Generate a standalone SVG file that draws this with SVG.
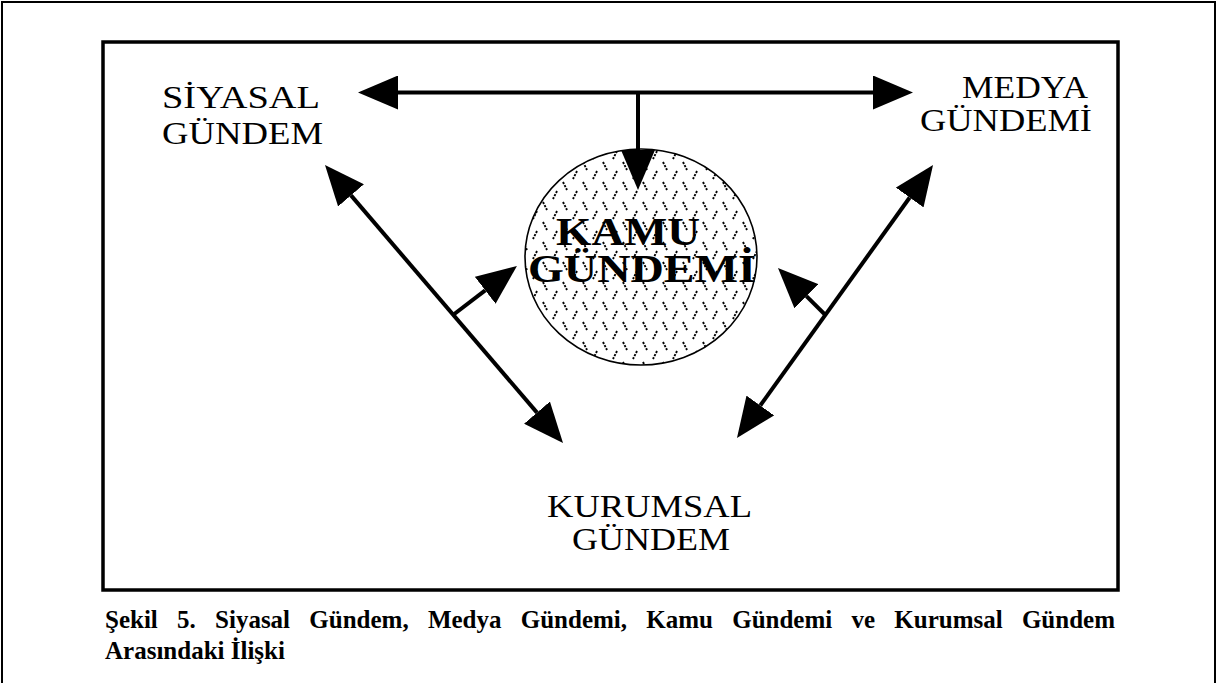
<svg xmlns="http://www.w3.org/2000/svg" width="1218" height="683" viewBox="0 0 1218 683">
<style>
.lbl{font-family:"Liberation Serif","Times New Roman",serif;font-size:32px;fill:#000}
.kamu{font-family:"Liberation Serif","Times New Roman",serif;font-size:41px;font-weight:bold;fill:#000}
.cap{font-family:"Liberation Serif","Times New Roman",serif;font-size:25px;font-weight:bold;fill:#000}
.conn{stroke:#000;stroke-width:4;fill:none;marker-end:url(#ah);marker-start:url(#ah)}
.one{stroke:#000;stroke-width:4;fill:none;marker-end:url(#ah)}
</style>
<defs>
<marker id="ah" viewBox="0 -17 40 34" refX="0" refY="0" markerWidth="40" markerHeight="34" markerUnits="userSpaceOnUse" orient="auto-start-reverse">
<path d="M0,-17 L40,0 L0,17 z" fill="#000"/>
</marker>
<pattern id="hatch" patternUnits="userSpaceOnUse" width="20" height="20">
<g stroke="#000" stroke-width="1.9" stroke-dasharray="2.2 1.3" fill="none">
<line x1="3" y1="2" x2="7" y2="10"/>
<line x1="17" y1="11" x2="13" y2="19"/>
</g>
</pattern>
</defs>
<rect x="2" y="2" width="1213" height="690" fill="none" stroke="#000" stroke-width="2"/>
<rect x="103" y="42" width="1015" height="548" fill="none" stroke="#000" stroke-width="3.5"/>

<g id="connectors">
<line class="conn" x1="398" y1="92.5" x2="873" y2="92.5"/>
<line class="one" x1="638" y1="92.5" x2="638" y2="150"/>
<line class="conn" x1="351" y1="195.4" x2="537" y2="412.6"/>
<line class="one" x1="453" y1="315" x2="485.2" y2="290.3"/>
<line class="conn" x1="909.7" y1="197.5" x2="760.3" y2="405.5"/>
<line class="one" x1="825.4" y1="315" x2="806.4" y2="296.2"/>
</g>

<g id="kamu">
<ellipse cx="641" cy="257" rx="116" ry="108" fill="url(#hatch)" stroke="#000" stroke-width="1.6"/>
<text class="kamu" x="556" y="245" textLength="144" lengthAdjust="spacingAndGlyphs">KAMU</text>
<text class="kamu" x="528" y="282" textLength="228" lengthAdjust="spacingAndGlyphs">GÜNDEMİ</text>
</g>
<g id="siyasal">
<text class="lbl" x="162" y="108" textLength="158" lengthAdjust="spacingAndGlyphs">SİYASAL</text>
<text class="lbl" x="162" y="144" textLength="161" lengthAdjust="spacingAndGlyphs">GÜNDEM</text>
</g>
<g id="medya">
<text class="lbl" x="962" y="98" textLength="126" lengthAdjust="spacingAndGlyphs">MEDYA</text>
<text class="lbl" x="920" y="131" textLength="172" lengthAdjust="spacingAndGlyphs">GÜNDEMİ</text>
</g>
<g id="kurumsal">
<text class="lbl" x="547" y="517" textLength="205" lengthAdjust="spacingAndGlyphs">KURUMSAL</text>
<text class="lbl" x="572" y="550" textLength="158" lengthAdjust="spacingAndGlyphs">GÜNDEM</text>
</g>
<g id="caption">
<text class="cap" x="105" y="628" word-spacing="13">Şekil 5. Siyasal Gündem, Medya Gündemi, Kamu Gündemi ve Kurumsal Gündem</text>
<text class="cap" x="105" y="659">Arasındaki İlişki</text>
</g>
</svg>
